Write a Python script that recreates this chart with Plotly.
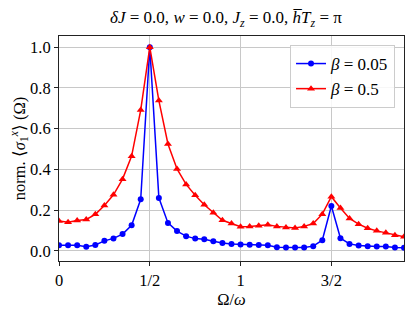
import plotly.graph_objects as go

omega_ratio = [round(0.05 * i, 2) for i in range(39)]

beta_005 = [0.027, 0.027, 0.027, 0.020, 0.029, 0.049, 0.061, 0.082, 0.125, 0.253,
            1.000, 0.260, 0.137, 0.097, 0.072, 0.060, 0.057, 0.047, 0.038, 0.033,
            0.031, 0.030, 0.029, 0.027, 0.018, 0.016, 0.016, 0.016, 0.023, 0.052,
            0.220, 0.062, 0.034, 0.026, 0.023, 0.021, 0.021, 0.016, 0.015]

beta_05 = [0.147, 0.140, 0.149, 0.154, 0.179, 0.223, 0.275, 0.352, 0.465, 0.691,
           1.000, 0.738, 0.525, 0.402, 0.326, 0.273, 0.226, 0.187, 0.150, 0.134,
           0.118, 0.120, 0.123, 0.128, 0.120, 0.115, 0.112, 0.120, 0.134, 0.180,
           0.266, 0.210, 0.159, 0.131, 0.111, 0.098, 0.089, 0.077, 0.069]

x_tick_vals = [0, 0.5, 1, 1.5]
x_tick_text = ["0", "1/2", "1", "3/2"]
y_tick_vals = [0.0, 0.2, 0.4, 0.6, 0.8, 1.0]
y_tick_text = ["0.0", "0.2", "0.4", "0.6", "0.8", "1.0"]

FONT = "Liberation Serif"
FS = 16.5

W, H = 407, 309  # page body has an 8px margin

fig = go.Figure()
fig.add_trace(go.Scatter(
    x=omega_ratio, y=beta_005, mode="lines+markers",
    name="<i>β</i> = 0.05",
    line=dict(color="#0000ff", width=1.5),
    marker=dict(symbol="circle", size=6, color="#0000ff"),
))
fig.add_trace(go.Scatter(
    x=omega_ratio, y=beta_05, mode="lines+markers",
    name="<i>β</i> = 0.5",
    line=dict(color="#ff0000", width=1.5),
    marker=dict(symbol="triangle-up", size=7, color="#ff0000"),
))

fig.update_layout(
    width=W, height=H,
    margin=dict(l=51, r=11, t=28, b=56),
    paper_bgcolor="white", plot_bgcolor="white",
    font=dict(family=FONT, size=FS, color="black"),
    title=dict(
        text="<i>δJ</i> = 0.0, <i>w</i> = 0.0, <i>J<sub>z</sub></i> = 0.0, <i>h̅T<sub>z</sub></i> = π",
        x=0.484, xref="paper", xanchor="center",
        y=1 - 9 / H, yref="container", yanchor="middle",
        font=dict(family=FONT, size=17, color="black"),
    ),
    showlegend=True,
    legend=dict(
        x=0.974, y=0.96, xanchor="right", yanchor="top",
        bgcolor="rgba(255,255,255,0.85)", bordercolor="#cccccc", borderwidth=1,
        font=dict(family=FONT, size=17),
        tracegroupgap=0,
    ),
)

fig.update_xaxes(
    range=[0, 1.9], tickvals=x_tick_vals, ticktext=x_tick_text,
    showgrid=True, gridcolor="#c8c8c8", gridwidth=1,
    showline=True, linecolor="#222222", linewidth=1, mirror=True,
    ticks="outside", ticklen=4, tickcolor="#222222",
    zeroline=False, automargin=False,
    title=dict(text="Ω/<i>ω</i>", font=dict(family=FONT, size=FS), standoff=4),
    tickfont=dict(family=FONT, size=FS),
)
fig.update_yaxes(
    range=[-0.05, 1.055], tickvals=y_tick_vals, ticktext=y_tick_text,
    showgrid=True, gridcolor="#c8c8c8", gridwidth=1,
    showline=True, linecolor="#222222", linewidth=1, mirror=True,
    ticks="outside", ticklen=4, tickcolor="#222222",
    zeroline=False, automargin=False,
    title=dict(text="norm. ⟨<i>σ</i><sub>1</sub><sup><i>x</i></sup>⟩ (Ω)",
               font=dict(family=FONT, size=FS), standoff=4),
    tickfont=dict(family=FONT, size=FS),
)

fig.write_html("out.html")
